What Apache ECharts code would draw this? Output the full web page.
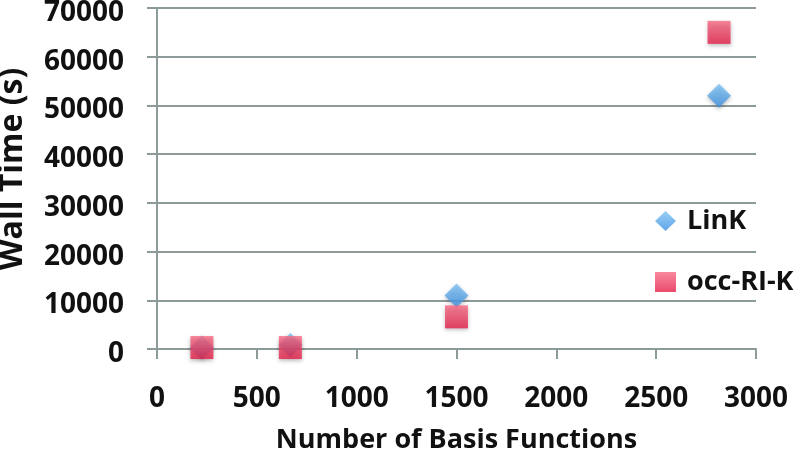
<!DOCTYPE html>
<html><head><meta charset="utf-8">
<script src="https://cdn.jsdelivr.net/npm/echarts@6/dist/echarts.min.js"></script>
<style>html,body{margin:0;padding:0;background:#fff}#c{width:802px;height:457px}</style>
</head><body><div id="c"></div>
<script>
const linkX = [225, 668, 1500, 2815];
const linkY = [300, 800, 11000, 52000];
const occX = [225, 668, 1500, 2815];
const occY = [300, 300, 6600, 65000];
const xTicks = [0, 3000, 500];
const yTicks = [0, 70000, 10000];
const xName = 'Number of Basis Functions';
const yName = 'Wall Time (s)';
const FONT = '"Open Sans", sans-serif';
const gray = '#8d9a9a';
const blueGrad = new echarts.graphic.LinearGradient(0, 0, 0, 1, [
  {offset: 0, color: '#7cc2f4'}, {offset: 1, color: '#3a8fe2'}]);
const redGrad = new echarts.graphic.LinearGradient(0, 0, 0, 1, [
  {offset: 0, color: '#f66a84'}, {offset: 1, color: '#e51e48'}]);
const chart = echarts.init(document.getElementById('c'));
chart.setOption({
  animation: false,
  grid: {left: 157, right: 46, top: 8, bottom: 108, containLabel: false, outerBoundsMode: 'none'},
  legend: {
    orient: 'vertical', left: 650, top: 202, itemGap: 33, itemWidth: 21, itemHeight: 20,
    textStyle: {fontFamily: FONT, fontWeight: 'bold', fontSize: 27, lineHeight: 28, color: '#111', padding: [0, 0, 0, 6]},
    data: [{name: 'LinK', icon: 'diamond'}, {name: 'occ-RI-K', icon: 'rect'}]
  },
  graphic: [{
    type: 'text', x: 13, y: 169, rotation: Math.PI / 2,
    style: {text: yName, fontFamily: FONT, fontWeight: 'bold', fontSize: 32, fill: '#111',
      align: 'center', verticalAlign: 'middle'}
  }],
  xAxis: {
    type: 'value', min: xTicks[0], max: xTicks[1], interval: xTicks[2],
    name: xName, nameLocation: 'middle', nameGap: 78,
    nameTextStyle: {fontFamily: FONT, fontWeight: 'bold', fontSize: 27, color: '#111'},
    axisLine: {show: true, lineStyle: {color: gray, width: 2}},
    axisTick: {show: true, length: 10, lineStyle: {color: gray, width: 2}},
    splitLine: {show: false},
    axisLabel: {fontFamily: FONT, fontWeight: 'bold', fontSize: 28, color: '#111', margin: 36,
      formatter: v => String(v)}
  },
  yAxis: {
    type: 'value', min: yTicks[0], max: yTicks[1], interval: yTicks[2],
    axisLine: {show: true, lineStyle: {color: gray, width: 2}},
    axisTick: {show: true, length: 10, lineStyle: {color: gray, width: 2}},
    splitLine: {show: true, lineStyle: {color: gray, width: 2}},
    axisLabel: {fontFamily: FONT, fontWeight: 'bold', fontSize: 28, color: '#111', margin: 33,
      verticalAlign: 'top', lineHeight: 10, formatter: v => String(v)}
  },
  series: [
    {name: 'LinK', type: 'scatter', symbol: 'diamond', symbolSize: 24, z: 2,
     itemStyle: {color: blueGrad, shadowBlur: 4, shadowColor: 'rgba(0,0,0,0.3)', shadowOffsetY: 2},
     data: linkX.map((x, i) => [x, linkY[i]])},
    {name: 'occ-RI-K', type: 'scatter', symbol: 'rect', symbolSize: 23, z: 3,
     itemStyle: {color: redGrad, borderRadius: 2, shadowBlur: 4, shadowColor: 'rgba(0,0,0,0.3)', shadowOffsetY: 2},
     data: occX.map((x, i) => [x, occY[i]])}
  ]
});
</script></body></html>
